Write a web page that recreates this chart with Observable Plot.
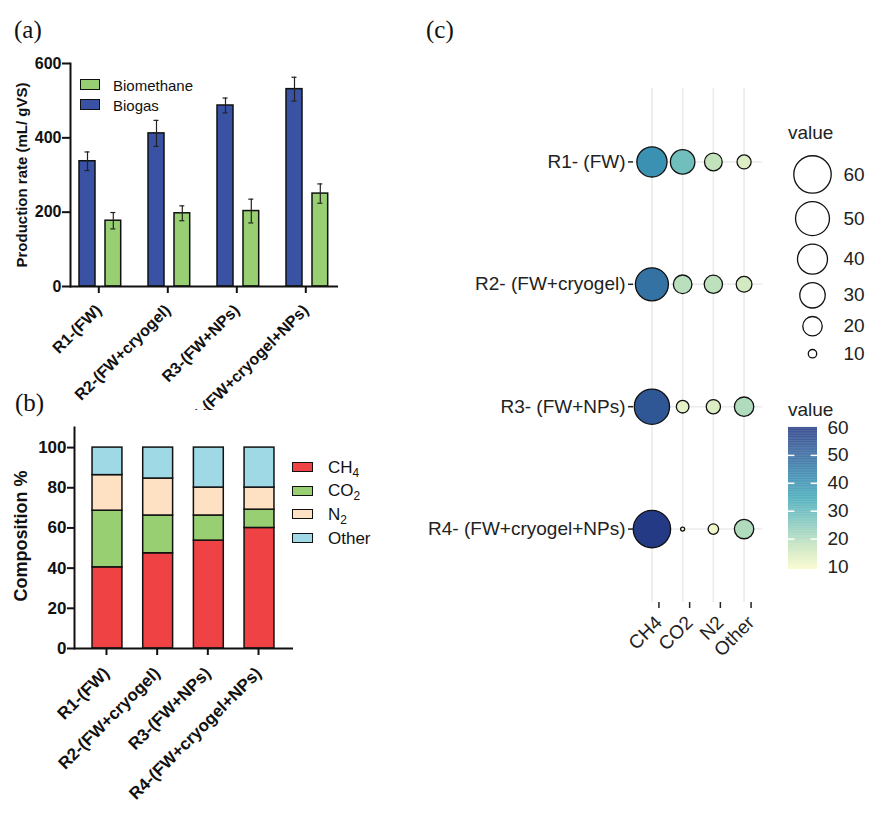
<!DOCTYPE html>
<html><head><meta charset="utf-8">
<script src="https://cdn.jsdelivr.net/npm/d3@7"></script>
<script src="https://cdn.jsdelivr.net/npm/@observablehq/plot@0.6"></script>
<style>
body{margin:0;background:#fff;}
#page{position:relative;width:887px;height:818px;overflow:hidden;background:#fff;font-family:"Liberation Sans",Arial,sans-serif;color:#111;}
#page > *{position:absolute;}
.plabel{font-family:"Liberation Serif","Times New Roman",serif;font-size:25px;line-height:25px;color:#111;}
.sw{box-sizing:border-box;border:1.5px solid #111;}
.lt{white-space:nowrap;line-height:1;}
.lt sub{font-size:70%;vertical-align:-0.3em;line-height:0;}
.rot{white-space:nowrap;line-height:1;font-weight:bold;transform:translate(-50%,-50%) rotate(-90deg);}
</style></head><body><div id="page"></div>
<script>
// ---------- data ----------
const reactorsShort = ["R1-(FW)","R2-(FW+cryogel)","R3-(FW+NPs)","R4-(FW+cryogel+NPs)"];
const reactorsLong  = ["R1- (FW)","R2- (FW+cryogel)","R3- (FW+NPs)","R4- (FW+cryogel+NPs)"];
const seriesNames   = ["Biomethane","Biogas"];
const seriesColors  = ["#98cf72","#3a52a4"];
const biogas        = [337,412,487,531];
const biogasErr     = [25,35,20,32];
const biomethane    = [177,197,203,250];
const biomethaneErr = [22,20,32,26];
const ticksA        = [0,200,400,600];

const gases       = ["CH4","CO2","N2","Other"];
const gasLabels   = ["CH<sub>4</sub>","CO<sub>2</sub>","N<sub>2</sub>","Other"];
const gasColors   = ["#ee4245","#98cf72","#fde1c2","#9fd9e6"];
const ch4   = [40.4,47.4,53.7,60.0];
const co2   = [28.2,18.8,12.5,9.1];
const n2    = [17.7,18.4,13.9,11.0];
const other = [13.7,15.4,19.9,19.9];
const ticksB = [0,20,40,60,80,100];

const sizeLegendValues  = [60,50,40,30,20,10];
const colorLegendTicks  = [10,20,30,40,50,60];
const palette = ["#fbfbcc","#c4e3bd","#80c6bd","#45aab9","#3586ad","#33609b","#253a85"];

// ---------- tables ----------
const rowsA = reactorsShort.flatMap((g,i)=>[
  {group:g, series:"Biogas", value:biogas[i], err:biogasErr[i]},
  {group:g, series:"Biomethane", value:biomethane[i], err:biomethaneErr[i]}
]);
const gasSeries = [ch4,co2,n2,other];
const compRows = reactorsShort.flatMap((g,i)=>gases.map((gas,j)=>({
  reactor:g, reactorLong:reactorsLong[i], gas, value:gasSeries[j][i]
})));
const vmin = d3.min(compRows, d=>d.value), vmax = d3.max(compRows, d=>d.value);

const page = document.getElementById("page");
function place(el, left, top){ el.style.left = left+"px"; el.style.top = top+"px"; page.appendChild(el); return el; }
function div(html, cls, style){ const e=document.createElement("div"); if(cls) e.className=cls; e.innerHTML=html; if(style) Object.assign(e.style, style); return e; }

// ---------- panel (a) ----------
const bg = rowsA.filter(d=>d.series==="Biogas");
const bm = rowsA.filter(d=>d.series==="Biomethane");
const errMarks = (rows, dx) => [
  Plot.ruleX(rows, {x:"group", y1:d=>d.value-d.err, y2:d=>d.value+d.err, dx, stroke:"#222", strokeWidth:1.2}),
  Plot.tickY(rows, {x:"group", y:d=>d.value+d.err, dx, insetLeft:32, insetRight:32, stroke:"#222", strokeWidth:1.2}),
  Plot.tickY(rows, {x:"group", y:d=>d.value-d.err, dx, insetLeft:32, insetRight:32, stroke:"#222", strokeWidth:1.2})
];
const plotA = Plot.plot({
  width:400, height:410,
  marginLeft:70, marginRight:62, marginTop:63, marginBottom:124,
  x:{type:"band", domain:reactorsShort, range:[64.8,340.8], paddingInner:0, paddingOuter:0, round:false},
  y:{domain:[0,600], range:[286,63]},
  style:{fontFamily:"Liberation Sans, Arial, sans-serif", fontSize:"16px", fontWeight:"bold", color:"#111", background:"transparent", overflow:"visible"},
  marks:[
    Plot.barY(bg, {x:"group", y:"value", fill:seriesColors[1], stroke:"#111", strokeWidth:1.5, insetLeft:14.2, insetRight:38.8}),
    Plot.barY(bm, {x:"group", y:"value", fill:seriesColors[0], stroke:"#111", strokeWidth:1.5, insetLeft:40.2, insetRight:13.1}),
    ...errMarks(bg, -12.3),
    ...errMarks(bm, 13.5),
    Plot.ruleY([0], {stroke:"#111", strokeWidth:2}),
    Plot.frame({anchor:"left", stroke:"#111", strokeWidth:2}),
    Plot.axisY({ticks:ticksA, tickSize:8, tickPadding:1, strokeWidth:2, label:null}),
    Plot.axisX({tickRotate:-45, tickSize:7, tickPadding:14, dx:-1, strokeWidth:2, label:null})
  ]
});
place(plotA, 0, 0);
place(div("Production rate (mL/ gVS)", "rot", {fontSize:"15px"}), 21, 174.5);

// legend (a)
seriesNames.forEach((s,i)=>{
  place(div("", "sw", {width:"20px", height:"11px", background:seriesColors[i]}), 80, 79 + i*19.5);
  place(div(s, "lt", {fontSize:"15px"}), 113, 78 + i*19.5);
});

// ---------- panel (b) ----------
const plotB = Plot.plot({
  width:400, height:408,
  marginLeft:74, marginRight:107, marginTop:17, marginBottom:170,
  x:{type:"band", domain:reactorsShort, range:[81.65,284.35], paddingInner:0.41, paddingOuter:0.205, round:false},
  y:{domain:[0,110], range:[238,17]},
  color:{domain:gases, range:gasColors},
  style:{fontFamily:"Liberation Sans, Arial, sans-serif", fontSize:"17px", fontWeight:"bold", color:"#111", background:"#fff", overflow:"visible"},
  marks:[
    Plot.barY(compRows, {x:"reactor", y:"value", fill:"gas", order:gases, stroke:"#111", strokeWidth:1.5}),
    Plot.ruleY([0], {stroke:"#111", strokeWidth:2}),
    Plot.frame({anchor:"left", stroke:"#111", strokeWidth:2}),
    Plot.axisY({ticks:ticksB, tickSize:7, tickPadding:1, strokeWidth:2, label:null}),
    Plot.axisX({tickRotate:-45, tickSize:7, tickPadding:15, dx:-1, strokeWidth:2, label:null})
  ]
});
place(plotB, 0, 410);
place(div("Composition %", "rot", {fontSize:"18px"}), 21, 536);

gases.forEach((g,i)=>{
  place(div("", "sw", {width:"21px", height:"10px", background:gasColors[i]}), 292, 462 + i*23.7);
  place(div(gasLabels[i], "lt", {fontSize:"17px"}), 328, 458.5 + i*23.7);
});

// ---------- panel (c) ----------
const colorOpts = {type:"linear", domain:[vmin, vmax], interpolate:d3.piecewise(d3.interpolateRgb, palette)};
const rOpts = {type:"sqrt", domain:[0, vmax - vmin], range:[2, 18.7]};
const plotC = Plot.plot({
  width:370, height:700,
  marginLeft:233, marginRight:8, marginTop:88, marginBottom:98,
  x:{type:"point", domain:gases, padding:0.6, round:false},
  y:{type:"point", domain:reactorsLong, padding:0.6, round:false},
  color:colorOpts,
  r:rOpts,
  style:{fontFamily:"Liberation Sans, Arial, sans-serif", fontSize:"19px", color:"#222", background:"transparent", overflow:"visible"},
  marks:[
    Plot.gridX({stroke:"#ebebeb", strokeOpacity:1, strokeWidth:1.6}),
    Plot.gridY({stroke:"#ebebeb", strokeOpacity:1, strokeWidth:1.6}),
    Plot.dot(compRows, {x:"gas", y:"reactorLong", r:d=>d.value - vmin, fill:"value", stroke:"#111", strokeWidth:1.3}),
    Plot.axisY({tickSize:5, tickPadding:3, strokeWidth:1.5, label:null}),
    Plot.axisX({tickRotate:-45, tickSize:6, tickPadding:11, dx:7, strokeWidth:1.5, label:null})
  ]
});
place(plotC, 400, 0);

// size legend
const rS = d3.scaleSqrt().domain(rOpts.domain).range(rOpts.range);
let acc = 51;
const sizeRows = sizeLegendValues.map(v=>{ const r = rS(v - vmin); const h = Math.max(2*r + 8.5, 27); const row = {v, cy: acc + h/2}; acc += h; return row; });
const plotSize = Plot.plot({
  width:117, height:280, margin:0,
  x:{type:"identity", axis:null}, y:{type:"identity", axis:null},
  r:rOpts,
  style:{fontFamily:"Liberation Sans, Arial, sans-serif", fontSize:"19px", color:"#222", background:"transparent", overflow:"visible"},
  marks:[
    Plot.dot(sizeRows, {x:42, y:"cy", r:d=>d.v - vmin, fill:"none", stroke:"#111", strokeWidth:1.3}),
    Plot.text(sizeRows, {x:73, y:"cy", text:d=>String(d.v), textAnchor:"start", fill:"#222"})
  ]
});
place(plotSize, 770, 100);
place(div("value", "lt", {fontSize:"19px", color:"#222"}), 788, 123);

// color legend
const nRamp = 200, half = (vmax - vmin)/nRamp/2 + 0.02;
const ramp = d3.range(nRamp).map(i => vmin + (vmax - vmin)*(i + 0.5)/nRamp);
const innerTicks = colorLegendTicks.filter(t => t > vmin + 1 && t < vmax - 1);
const plotColor = Plot.plot({
  width:107, height:190, margin:0,
  x:{domain:[0,1], range:[8,37], axis:null},
  y:{domain:[vmin, vmax], range:[169,27], axis:null},
  color:colorOpts,
  style:{fontFamily:"Liberation Sans, Arial, sans-serif", fontSize:"19px", color:"#222", background:"transparent", overflow:"visible"},
  marks:[
    Plot.rect(ramp, {x1:0, x2:1, y1:d=>d-half, y2:d=>d+half, fill:d=>d}),
    Plot.ruleY(innerTicks, {y:d=>d, x1:0, x2:0.22, stroke:"#fff", strokeWidth:1.5}),
    Plot.ruleY(innerTicks, {y:d=>d, x1:0.78, x2:1, stroke:"#fff", strokeWidth:1.5}),
    Plot.text(colorLegendTicks, {x:1, y:d=>d, dx:10, text:d=>String(d), textAnchor:"start", fill:"#222"})
  ]
});
place(plotColor, 780, 400);
place(div("value", "lt", {fontSize:"19px", color:"#222"}), 788, 400);

// panel labels
place(div("(a)", "plabel"), 14, 17);
place(div("(b)", "plabel"), 15, 390);
place(div("(c)", "plabel"), 426, 17);
</script></body></html>
